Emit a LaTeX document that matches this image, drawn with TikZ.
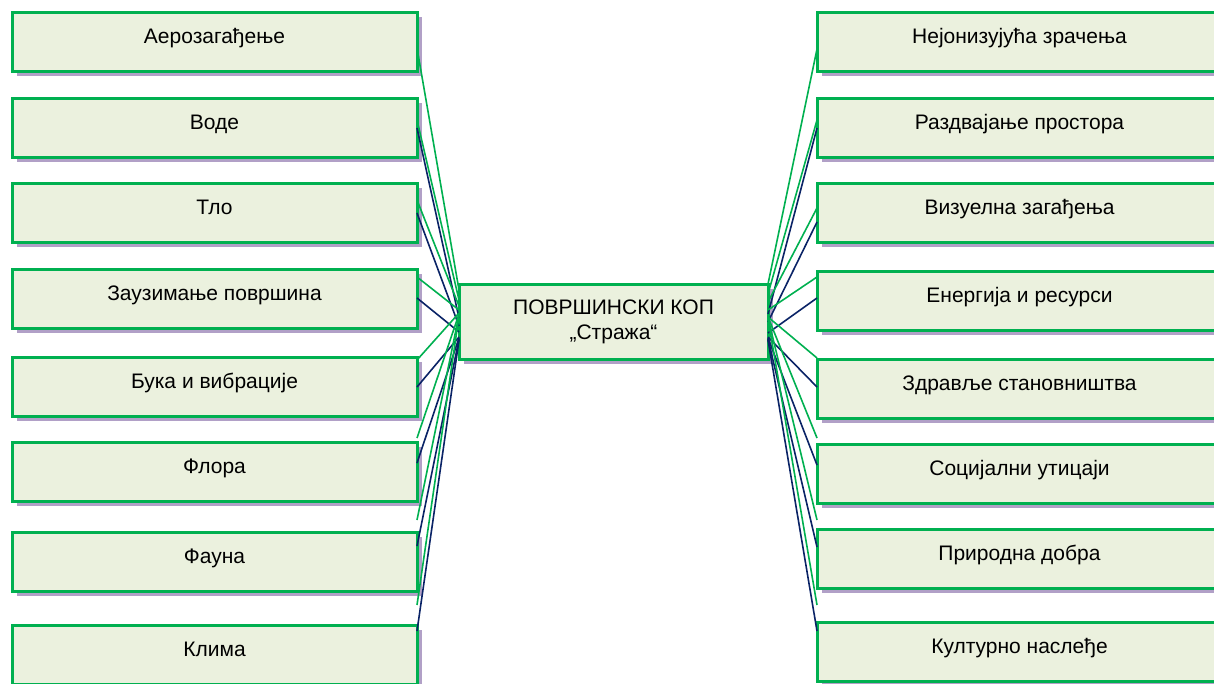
\documentclass[tikz,border=0pt]{standalone}
\usepackage{fontspec}
\setmainfont{Liberation Sans}
\usetikzlibrary{shadows}

\definecolor{kopgreen}{HTML}{00B050}
\definecolor{kopfill}{HTML}{EBF1DE}
\definecolor{kopshadow}{HTML}{B1A0C7}
\definecolor{kopnavy}{HTML}{0A2366}

\begin{document}
\begin{tikzpicture}[x=1pt, y=-1pt,
  effect/.style={draw=kopgreen, line width=3pt, fill=kopfill,
    general shadow={fill=kopshadow, shadow xshift=5pt, shadow yshift=-5pt},
    minimum width=405pt, inner sep=0pt, outer sep=0pt,
    text height=31pt, text depth=28pt,
    font=\fontsize{21}{25}\selectfont},
  greenlink/.style={kopgreen, line width=1.6pt},
  navylink/.style={kopnavy, line width=1.6pt}]
  \useasboundingbox (0,0) rectangle (1214,683);

  % left column
  \node[effect, anchor=north east] (aero)  at (417,12)  {Аерозагађење};
  \node[effect, anchor=north east] (vode)  at (417,98)  {Воде};
  \node[effect, anchor=north east] (tlo)   at (417,183) {Тло};
  \node[effect, anchor=north east] (zauz)  at (417,269) {Заузимање површина};
  \node[effect, anchor=north east] (buka)  at (417,357) {Бука и вибрације};
  \node[effect, anchor=north east] (flora) at (417,442) {Флора};
  \node[effect, anchor=north east] (fauna) at (417,532) {Фауна};
  \node[effect, anchor=north east] (klima) at (417,625) {Клима};

  % right column
  \node[effect, anchor=north west] (zrac)  at (817,12)  {Нејонизујућа зрачења};
  \node[effect, anchor=north west] (razd)  at (817,98)  {Раздвајање простора};
  \node[effect, anchor=north west] (vizu)  at (817,183) {Визуелна загађења};
  \node[effect, anchor=north west] (energ) at (817,271) {Енергија и ресурси};
  \node[effect, anchor=north west] (zdrav) at (817,359) {Здравље становништва};
  \node[effect, anchor=north west] (soc)   at (817,444) {Социјални утицаји};
  \node[effect, anchor=north west] (prir)  at (817,529) {Природна добра};
  \node[effect, anchor=north west] (kult)  at (817,622) {Културно наслеђе};

  % the mine
  \node[effect, text height=, text depth=, minimum width=309pt, minimum height=75pt,
    align=center] (kop) at (613.5,321.5) {ПОВРШИНСКИ КОП\\„Стража“};

  \draw[greenlink] ([yshift=-36pt]aero.north east)  -- ([yshift=-6pt]kop.north west);
  \draw[greenlink] ([yshift=-22pt]vode.north east)  -- ([yshift=-16pt]kop.north west);
  \draw[navylink]  ([yshift=-30pt]vode.north east)  -- ([yshift=-34pt]kop.north west);
  \draw[greenlink] ([yshift=-17pt]tlo.north east)   -- ([yshift=-22pt]kop.north west);
  \draw[navylink]  ([yshift=-30pt]tlo.north east)   -- ([yshift=-42pt]kop.north west);
  \draw[greenlink] ([yshift=-8pt]zauz.north east)   -- ([yshift=-26pt]kop.north west);
  \draw[navylink]  ([yshift=-29pt]zauz.north east)  -- ([yshift=-48pt]kop.north west);
  \draw[greenlink] ([yshift=-3pt]buka.north east)   -- ([yshift=-29pt]kop.north west);
  \draw[navylink]  ([yshift=-30pt]buka.north east)  -- ([yshift=-53pt]kop.north west);
  \draw[greenlink] ([yshift=4pt]flora.north east)   -- ([yshift=-30pt]kop.north west);
  \draw[navylink]  ([yshift=-21pt]flora.north east) -- ([yshift=-54pt]kop.north west);
  \draw[greenlink] ([yshift=12pt]fauna.north east)  -- ([yshift=-31pt]kop.north west);
  \draw[navylink]  ([yshift=-14pt]fauna.north east) -- ([yshift=-55pt]kop.north west);
  \draw[greenlink] ([yshift=20pt]klima.north east)  -- ([yshift=-32pt]kop.north west);
  \draw[navylink]  ([yshift=-6pt]klima.north east)  -- ([yshift=-56pt]kop.north west);

  \draw[greenlink] ([yshift=-37pt]zrac.north west)  -- (kop.north east);
  \draw[greenlink] ([yshift=-22pt]razd.north west)  -- ([yshift=-10pt]kop.north east);
  \draw[navylink]  ([yshift=-30pt]razd.north west)  -- ([yshift=-30pt]kop.north east);
  \draw[greenlink] ([yshift=-25pt]vizu.north west)  -- ([yshift=-18pt]kop.north east);
  \draw[navylink]  ([yshift=-39pt]vizu.north west)  -- ([yshift=-38pt]kop.north east);
  \draw[greenlink] ([yshift=-6pt]energ.north west)  -- ([yshift=-26pt]kop.north east);
  \draw[navylink]  ([yshift=-27pt]energ.north west) -- ([yshift=-49pt]kop.north east);
  \draw[greenlink] ([yshift=1pt]zdrav.north west)   -- ([yshift=-33pt]kop.north east);
  \draw[navylink]  ([yshift=-28pt]zdrav.north west) -- ([yshift=-53pt]kop.north east);
  \draw[greenlink] ([yshift=6pt]soc.north west)     -- ([yshift=-33pt]kop.north east);
  \draw[navylink]  ([yshift=-21pt]soc.north west)   -- ([yshift=-54pt]kop.north east);
  \draw[greenlink] ([yshift=9pt]prir.north west)    -- ([yshift=-34pt]kop.north east);
  \draw[navylink]  ([yshift=-18pt]prir.north west)  -- ([yshift=-55pt]kop.north east);
  \draw[greenlink] ([yshift=17pt]kult.north west)   -- ([yshift=-35pt]kop.north east);
  \draw[navylink]  ([yshift=-9pt]kult.north west)   -- ([yshift=-56pt]kop.north east);
\end{tikzpicture}
\end{document}
